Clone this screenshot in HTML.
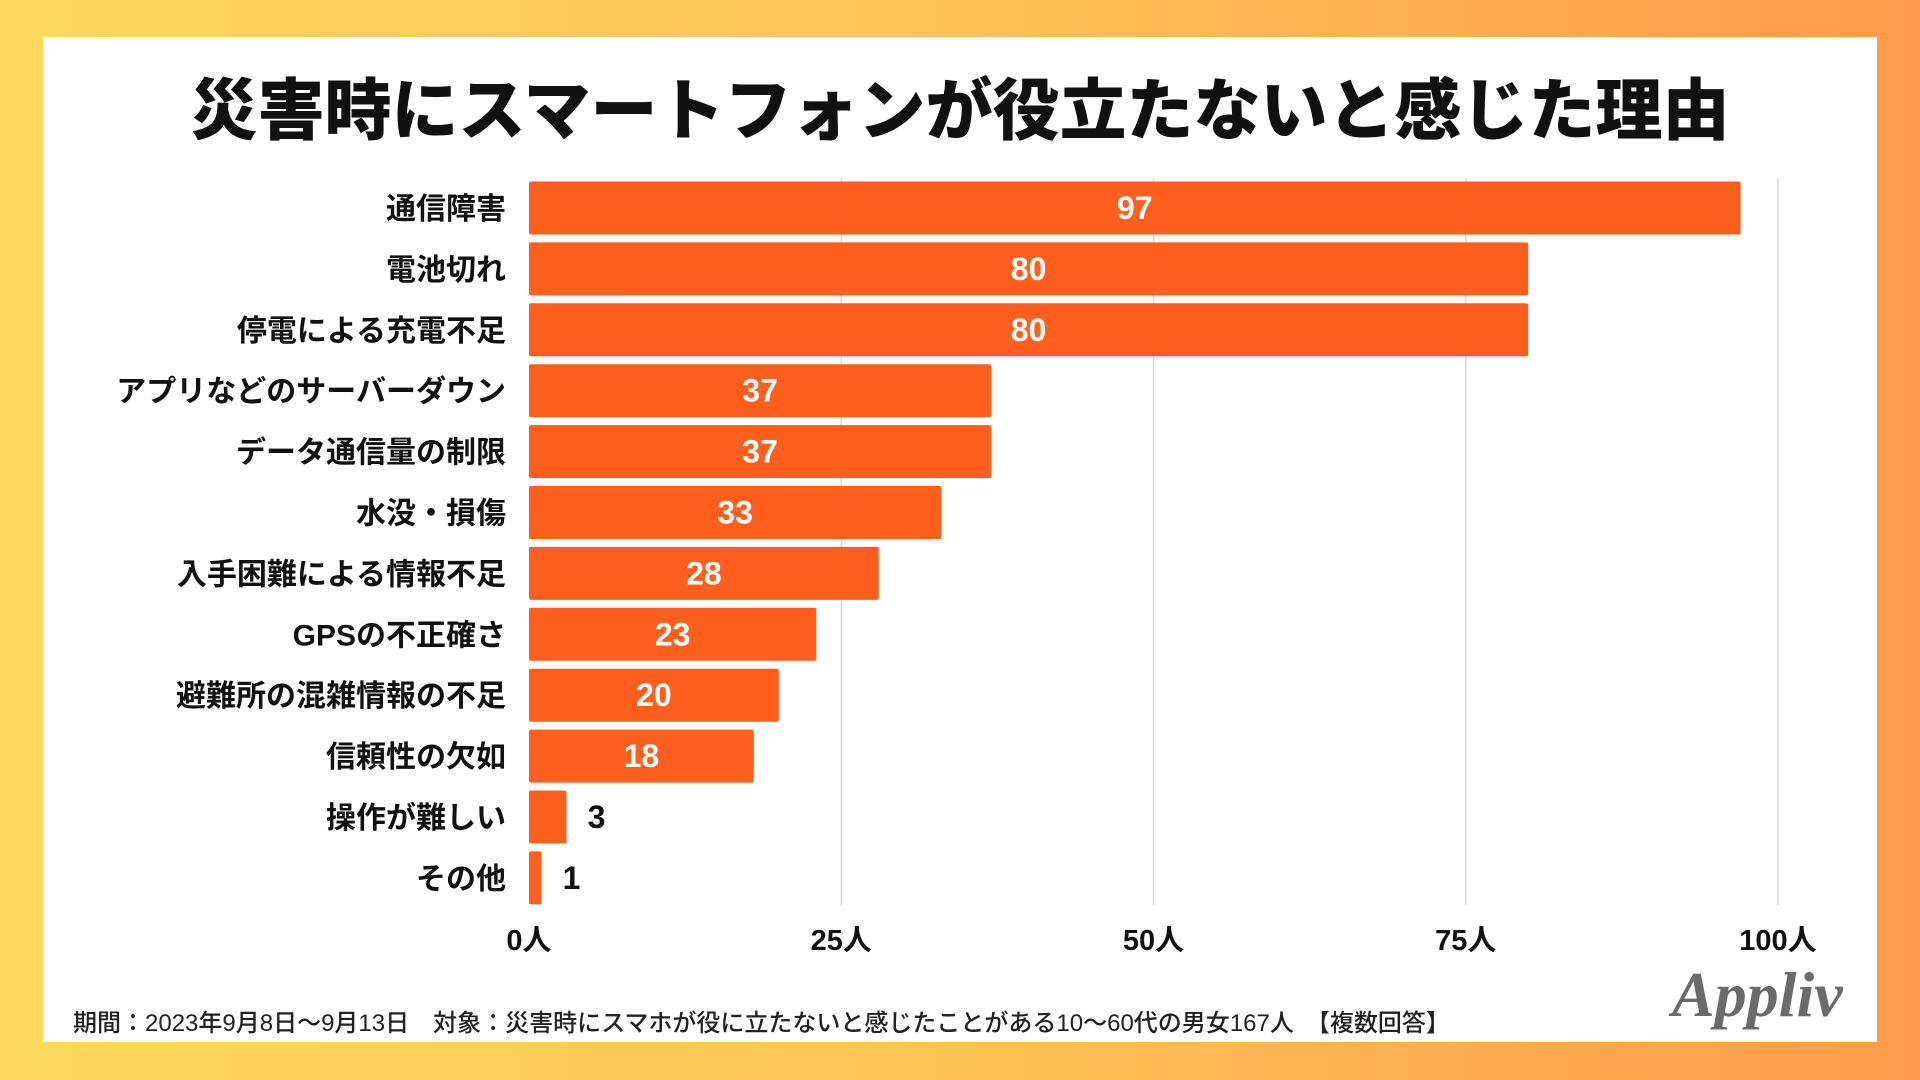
<!DOCTYPE html>
<html><head><meta charset="utf-8">
<style>
html,body{margin:0;padding:0;}
body{width:1920px;height:1080px;background:linear-gradient(90deg,#ffd95c 0%,#ffc256 50%,#ff9a4c 100%);font-family:"Liberation Sans","Noto Sans CJK JP",sans-serif;position:relative;overflow:hidden;}
#panel{position:absolute;left:43px;top:37px;width:1834px;height:1005px;background:#fff;}
#title{position:absolute;left:0;top:68px;width:1920px;text-align:center;font-size:67px;font-weight:900;color:#111;line-height:88px;}
#footer{position:absolute;left:73px;top:1003px;font-size:24px;color:#222;font-weight:500;white-space:nowrap;}
#logo{position:absolute;left:1672px;top:958px;font-family:"Liberation Serif",serif;font-style:italic;font-weight:bold;font-size:64px;color:#6a6a6a;}
svg{position:absolute;left:0;top:0;}
</style></head><body>
<div id="panel"></div>
<div id="title">災害時にスマートフォンが役立たないと感じた理由</div>
<svg id="chart" width="1920" height="1080"></svg>
<div id="footer">期間：2023年9月8日〜9月13日　対象：災害時にスマホが役に立たないと感じたことがある10〜60代の男女167人　【複数回答】</div>
<div id="logo">Appliv</div>
<script>
const categories=["通信障害","電池切れ","停電による充電不足","アプリなどのサーバーダウン","データ通信量の制限","水没・損傷","入手困難による情報不足","GPSの不正確さ","避難所の混雑情報の不足","信頼性の欠如","操作が難しい","その他"];
const values=[97,80,80,37,37,33,28,23,20,18,3,1];
const ticks=[0,25,50,75,100];
const tickLabels=["0人","25人","50人","75人","100人"];
const NS="http://www.w3.org/2000/svg";
const svg=document.getElementById('chart');
const x0=529,x1=1778,maxV=100;
const xs=v=>x0+(x1-x0)*v/maxV;
const top0=208,pitch=60.9,bh=53;
const ys=i=>top0+i*pitch;
function mk(t,a){const e=document.createElementNS(NS,t);for(const k in a)e.setAttribute(k,a[k]);svg.appendChild(e);return e;}
ticks.forEach((t,i)=>{
  if(t>0){const l=mk('line',{x1:xs(t),x2:xs(t),y1:178,y2:905,stroke:'#d9d9d9','stroke-width':1.5});
  
  }
  const tx=mk('text',{x:xs(t),y:950,'text-anchor':'middle','font-size':29,'font-weight':'bold',fill:'#111'});
  tx.textContent=tickLabels[i];
  
  
});
categories.forEach((c,i)=>{
  const v=values[i],cy=ys(i);
  const r=mk('rect',{x:x0,y:cy-bh/2,width:xs(v)-x0,height:bh,fill:'#ff5f1c',rx:2});
  
  
  const lb=mk('text',{x:506,y:cy+11,'text-anchor':'end','font-size':30,'font-weight':'bold',fill:'#111'});
  lb.textContent=c;
  
  
  const inside=v>=10;
  const vt=mk('text',{x:inside?(x0+xs(v))/2:xs(v)+30,y:cy+11,'text-anchor':'middle','font-size':32,'font-weight':'bold',fill:inside?'#fff':'#111'});
  vt.textContent=v;
  
  
});
</script>
</body></html>
